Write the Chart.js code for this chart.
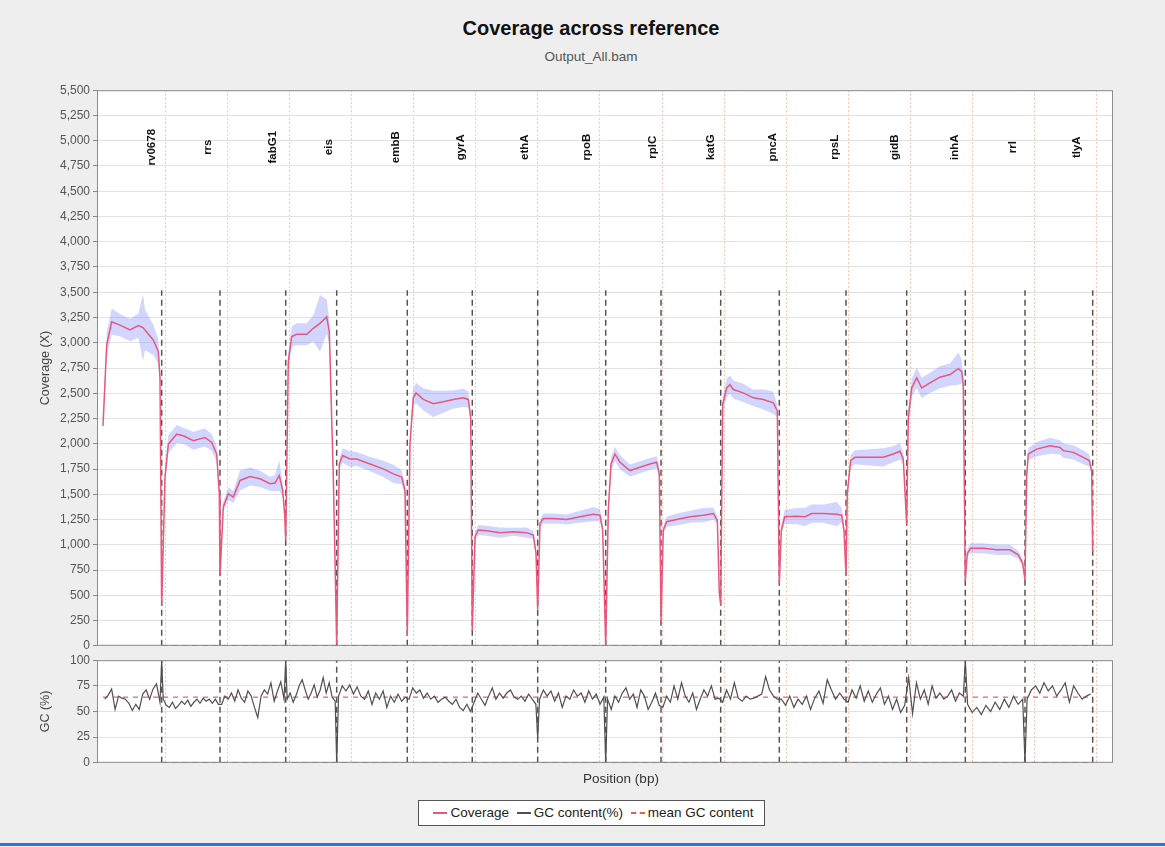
<!DOCTYPE html>
<html lang="en">
<head>
<meta charset="UTF-8">
<title>Coverage across reference</title>
<script src="https://cdn.jsdelivr.net/npm/chart.js"></script>
<style>
    body { margin: 0; width: 1165px; height: 847px; background: #eeeeee; position: relative; overflow: hidden;
           font-family: "Liberation Sans", Arial, sans-serif; }
    .box { position: absolute; left: 0; width: 1165px; }
    #title { position: absolute; top: 16px; left: 0; width: 1182px; text-align: center; font-weight: bold;
             font-size: 20px; line-height: 24px; color: #111; }
    #subtitle { position: absolute; top: 49px; left: 0; width: 1182px; text-align: center; font-size: 13.5px;
                line-height: 16px; color: #555; }
    #xlabel { position: absolute; top: 771px; left: 521px; width: 200px; text-align: center; font-size: 13.5px;
              line-height: 16px; color: #333; }
    #legend { position: absolute; top: 800px; left: 418px; width: 345px; height: 24px; border: 1px solid #555;
              background: #fff; font-size: 13.5px; line-height: 24px; color: #222; text-align: center; white-space: nowrap; }
    #legend span.sw { display: inline-block; width: 14px; height: 0; vertical-align: middle; margin: 0 3px 0 4px; }
    #bottomline { position: absolute; top: 843px; left: 0; width: 1165px; height: 3px; background: #2f73d8; }
</style>
</head>
<body>
<div id="title">Coverage across reference</div>
<div id="subtitle">Output_All.bam</div>
<div class="box" style="top:80px;height:576px"><canvas id="cov" width="1165" height="576"></canvas></div>
<div class="box" style="top:650px;height:123px"><canvas id="gc" width="1165" height="123"></canvas></div>
<div id="xlabel">Position (bp)</div>
<div id="legend">
    <span class="sw" style="border-top:2px solid #e8587a"></span>Coverage
    <span class="sw" style="border-top:2px solid #505050"></span>GC content(%)
    <span class="sw" style="border-top:2px dashed #e06060"></span>mean GC content
</div>
<div id="bottomline"></div>

<script>
// regions (bp end of each target), gene names and label positions
const regionEnd = [1890, 3767, 5883, 7525, 9798, 11891, 13997, 16187, 17968, 19890, 21777, 23925, 25879, 27766, 29688, 31868];
const geneNames = ["rv0678", "rrs", "fabG1", "eis", "embB", "gyrA", "ethA", "rpoB", "rplC", "katG", "pncA", "rpsL", "gidB", "inhA", "rrl", "tlyA"];
const geneLabelPos = [1568, 3391, 5484, 7287, 9435, 11528, 13588, 15575, 17700, 19565, 21584, 23570, 25502, 27434, 29312, 31353];

// coverage: position, mean, std dev
const covPos = [
    0, 119, 280, 547, 869, 1137, 1288, 1352, 1620, 1781, 1836, 1890,
    1996, 2103, 2373, 2586, 2908, 3284, 3500, 3661, 3745, 3767,
    3874, 4035, 4196, 4411, 4733, 5055, 5377, 5538, 5677, 5786, 5850, 5883,
    5967, 6076, 6237, 6559, 6772, 6987, 7203, 7287, 7416, 7525,
    7609, 7718, 7953, 8169, 8597, 9026, 9348, 9618, 9724, 9798,
    9885, 9991, 10079, 10314, 10636, 10958, 11280, 11602, 11763, 11840, 11891,
    11979, 12085, 12355, 12783, 13212, 13643, 13856, 13943, 13997,
    14071, 14177, 14499, 14931, 15359, 15788, 16003, 16090, 16187,
    16271, 16358, 16486, 16647, 16969, 17291, 17613, 17829, 17913, 17968,
    18042, 18151, 18473, 18901, 19330, 19652, 19781, 19845, 19890,
    19954, 20083, 20189, 20296, 20618, 20940, 21262, 21584, 21713, 21777,
    21843, 21950, 22326, 22604, 22820, 23193, 23625, 23786, 23860, 23925,
    23966, 24075, 24214, 24697, 25125, 25447, 25663, 25769, 25879,
    25931, 26040, 26201, 26362, 26629, 26951, 27273, 27541, 27650, 27701, 27766,
    27830, 27940, 28345, 28777, 29205, 29473, 29614, 29688,
    29742, 29793, 30064, 30493, 30815, 30921, 31243, 31565, 31758, 31835, 31868
];
const covMean = [
    2177, 2979, 3208, 3175, 3126, 3169, 3150, 3126, 3028, 2914, 2652, 393,
    1670, 1997, 2095, 2079, 2030, 2062, 2013, 1898, 1506, 690,
    1375, 1506, 1473, 1637, 1676, 1653, 1604, 1611, 1686, 1539, 1300, 1040,
    2816, 3061, 3084, 3084, 3143, 3192, 3258, 3110, 1670, 20,
    1800, 1883, 1849, 1849, 1800, 1751, 1702, 1670, 1539, 98,
    1997, 2455, 2504, 2439, 2396, 2416, 2439, 2455, 2439, 2259, 150,
    1080, 1146, 1139, 1120, 1129, 1120, 1097, 916, 360,
    1211, 1260, 1260, 1250, 1277, 1303, 1293, 1146, 0,
    1343, 1800, 1898, 1817, 1735, 1768, 1800, 1817, 1702, 240,
    1146, 1228, 1250, 1277, 1293, 1309, 1244, 524, 410,
    2390, 2553, 2586, 2537, 2504, 2455, 2439, 2406, 2325, 620,
    1146, 1277, 1283, 1277, 1309, 1309, 1303, 1293, 1146, 690,
    1506, 1834, 1866, 1866, 1866, 1898, 1925, 1849, 1200,
    2259, 2553, 2652, 2553, 2603, 2659, 2685, 2743, 2717, 2586, 640,
    916, 965, 965, 950, 950, 901, 818, 650,
    1670, 1898, 1947, 1980, 1964, 1932, 1915, 1866, 1834, 1735, 930
];
const covSd = [
    60, 120, 130, 110, 110, 120, 330, 200, 150, 120, 60, 10,
    50, 90, 90, 80, 90, 90, 80, 80, 40, 10,
    50, 60, 60, 100, 90, 80, 70, 80, 150, 60, 30, 10,
    80, 100, 110, 110, 130, 280, 170, 120, 40, 5,
    60, 70, 80, 70, 70, 80, 90, 70, 50, 5,
    60, 90, 100, 110, 130, 110, 90, 90, 80, 50, 5,
    40, 50, 50, 50, 40, 50, 40, 30, 10,
    40, 50, 50, 50, 60, 70, 60, 40, 0,
    50, 70, 70, 70, 60, 60, 60, 60, 50, 10,
    40, 50, 60, 60, 70, 60, 40, 20, 10,
    70, 90, 90, 90, 90, 80, 100, 110, 60, 10,
    40, 70, 80, 90, 90, 90, 120, 70, 40, 10,
    40, 60, 70, 80, 90, 80, 80, 60, 20,
    60, 90, 100, 100, 100, 110, 110, 160, 120, 70, 10,
    40, 50, 50, 50, 50, 40, 30, 10,
    40, 60, 70, 80, 70, 70, 70, 70, 60, 50, 10
];

// GC content (%) per region, plus the value reached at each region end (null = none)
const gcRegions = [
    [62, 66, 72, 52, 65, 63, 62, 58, 51, 57, 52, 67, 71, 62, 72, 77, 59],
    [62, 56, 54, 59, 53, 56, 60, 57, 61, 55, 59, 62, 58, 63, 60, 62, 58, 62, 57],
    [57, 65, 62, 68, 60, 71, 63, 59, 70, 65, 54, 44, 65, 71, 67, 78, 60, 70, 79, 62],
    [62, 68, 59, 66, 75, 81, 71, 62, 68, 76, 64, 71, 83, 68, 78, 64, 60],
    [65, 75, 70, 76, 67, 74, 65, 62, 70, 57, 68, 62, 70, 54, 65, 59, 67, 60, 64],
    [62, 73, 68, 71, 63, 68, 62, 65, 59, 62, 64, 60, 57, 62, 54, 51, 57, 50],
    [59, 68, 62, 56, 65, 73, 62, 68, 63, 68, 71, 64, 62, 65, 60, 67, 62, 57],
    [62, 71, 65, 70, 60, 68, 54, 65, 62, 71, 65, 68, 59, 70, 62, 67, 57, 64],
    [62, 52, 65, 59, 68, 73, 62, 67, 54, 71, 65, 52, 59, 68, 56],
    [54, 65, 59, 75, 62, 78, 65, 59, 68, 52, 62, 71, 65, 75, 62, 63],
    [59, 71, 62, 78, 63, 60, 65, 62, 63, 65, 67, 84, 71, 65, 62],
    [62, 56, 65, 54, 62, 57, 65, 52, 63, 70, 58, 81, 71, 62, 68, 62],
    [59, 71, 63, 75, 60, 70, 59, 67, 73, 57, 65, 52, 62, 49, 56],
    [83, 48, 78, 62, 71, 57, 75, 63, 68, 62, 65, 71, 60, 68, 65],
    [57, 49, 54, 47, 56, 50, 59, 52, 62, 54, 65, 57, 62],
    [62, 71, 75, 68, 78, 70, 75, 65, 71, 78, 59, 75, 68, 62, 65, 67]
];
const gcEdge = [100, null, 100, 0, null, null, 24, 0, null, null, null, null, null, 100, 0, null];
const gcMean = 64;

// axes
const xMin = -193, xMax = 32522;
const xGrid = [2000, 4000, 6000, 8000, 10000, 12000, 14000, 16000, 18000, 20000, 22000, 24000, 26000, 28000, 30000, 32000];
const covTicks = [0, 250, 500, 750, 1000, 1250, 1500, 1750, 2000, 2250, 2500, 2750, 3000, 3250, 3500, 3750,
                  4000, 4250, 4500, 4750, 5000, 5250, 5500];
const gcTicks = [0, 25, 50, 75, 100];
const boundaryTop = 3520;

Chart.defaults.font.family = '"Liberation Sans", Arial, sans-serif';
Chart.defaults.animation = false;

function boundaryLines(top) {
    const pts = [];
    regionEnd.forEach(b => pts.push({x: b, y: 0}, {x: b, y: top}, {x: b, y: null}));
    return pts;
}

const plotFrame = {
    id: 'plotFrame',
    beforeDraw(chart) {
        const {ctx, chartArea: a} = chart;
        ctx.save();
        ctx.fillStyle = '#ffffff';
        ctx.fillRect(a.left, a.top, a.width, a.height);
        ctx.restore();
    },
    afterDraw(chart) {
        const {ctx, chartArea: a} = chart;
        ctx.save();
        ctx.strokeStyle = '#8c8c8c';
        ctx.lineWidth = 1;
        ctx.strokeRect(a.left + 0.5, a.top + 0.5, a.width - 1, a.height - 1);
        ctx.restore();
    }
};

const geneLabels = {
    id: 'geneLabels',
    afterDatasetsDraw(chart) {
        const {ctx, chartArea, scales: {x}} = chart;
        ctx.save();
        ctx.font = 'bold 11.5px "Liberation Sans", Arial, sans-serif';
        ctx.fillStyle = '#111';
        ctx.textAlign = 'center';
        ctx.textBaseline = 'middle';
        geneNames.forEach((g, i) => {
            ctx.save();
            ctx.translate(x.getPixelForValue(geneLabelPos[i]), chartArea.top + 57);
            ctx.rotate(-Math.PI / 2);
            ctx.fillText(g, 0, 0);
            ctx.restore();
        });
        ctx.restore();
    }
};

function xScale() {
    return {
        type: 'linear', min: xMin, max: xMax,
        afterBuildTicks: s => { s.ticks = xGrid.map(v => ({value: v})); },
        ticks: {display: false},
        grid: {color: 'rgba(236,150,110,0.55)', drawTicks: false, lineWidth: 1},
        border: {display: false, dash: [2, 2]},
        afterFit: s => { s.height = 0; }
    };
}

function yScale(max, ticks, title) {
    return {
        min: 0, max: max,
        afterBuildTicks: s => { s.ticks = ticks.map(v => ({value: v})); },
        ticks: {color: '#555', font: {size: 12}, padding: 3, callback: v => v.toLocaleString('en-US')},
        grid: {color: '#e2e2e2', tickColor: '#888', tickLength: 4},
        border: {display: true, color: '#888'},
        title: {display: true, text: title, color: '#444', font: {size: 12.5}, padding: {top: 38, bottom: 0}},
        afterFit: s => { s.width = 97; }
    };
}

const noLegend = {legend: {display: false}, tooltip: {enabled: false}};

new Chart(document.getElementById('cov'), {
    type: 'line',
    data: {
        datasets: [
            {
                label: 'Coverage',
                data: covPos.map((x, i) => ({x, y: covMean[i]})),
                borderColor: '#e8587a', borderWidth: 1.5, pointRadius: 0, fill: false
            },
            {
                label: 'upper',
                data: covPos.map((x, i) => ({x, y: covMean[i] + covSd[i]})),
                borderWidth: 0, pointRadius: 0, fill: '+1', backgroundColor: 'rgba(130,140,255,0.36)'
            },
            {
                label: 'lower',
                data: covPos.map((x, i) => ({x, y: Math.max(0, covMean[i] - covSd[i])})),
                borderWidth: 0, pointRadius: 0, fill: false
            },
            {
                label: 'bounds',
                data: boundaryLines(boundaryTop),
                borderColor: '#555', borderWidth: 1.5, borderDash: [6, 4], pointRadius: 0, fill: false
            },
            {
                label: 'base',
                data: [{x: regionEnd[0], y: 0}, {x: regionEnd[regionEnd.length - 1], y: 0}],
                borderColor: '#555', borderWidth: 1.5, borderDash: [6, 4], pointRadius: 0, fill: false
            }
        ]
    },
    options: {
        responsive: false,
        layout: {padding: {top: 10, bottom: 6, left: 0, right: 52}},
        plugins: noLegend,
        scales: {x: xScale(), y: yScale(5500, covTicks, 'Coverage (X)')}
    },
    plugins: [plotFrame, geneLabels]
});

const gcPoints = [];
let start = 0;
gcRegions.forEach((vals, r) => {
    const end = regionEnd[r];
    const w = (end - start) / vals.length;
    vals.forEach((v, j) => gcPoints.push({x: start + (j + 0.5) * w, y: v}));
    if (gcEdge[r] !== null) gcPoints.push({x: end, y: gcEdge[r]});
    start = end;
});

new Chart(document.getElementById('gc'), {
    type: 'line',
    data: {
        datasets: [
            {
                label: 'GC content(%)',
                data: gcPoints,
                borderColor: '#505050', borderWidth: 1.2, pointRadius: 0, fill: false
            },
            {
                label: 'mean GC content',
                data: [{x: 0, y: gcMean}, {x: regionEnd[regionEnd.length - 1], y: gcMean}],
                borderColor: '#e06060', borderWidth: 1.2, borderDash: [5, 5], pointRadius: 0, fill: false
            },
            {
                label: 'bounds',
                data: boundaryLines(100),
                borderColor: '#555', borderWidth: 1.5, borderDash: [6, 4], pointRadius: 0, fill: false
            },
            {
                label: 'base',
                data: [{x: regionEnd[0], y: 0}, {x: regionEnd[regionEnd.length - 1], y: 0}],
                borderColor: '#555', borderWidth: 1.5, borderDash: [6, 4], pointRadius: 0, fill: false
            }
        ]
    },
    options: {
        responsive: false,
        layout: {padding: {top: 10, bottom: 8, left: 0, right: 52}},
        plugins: noLegend,
        scales: {x: xScale(), y: yScale(100, gcTicks, 'GC (%)')}
    },
    plugins: [plotFrame]
});
</script>
</body>
</html>
